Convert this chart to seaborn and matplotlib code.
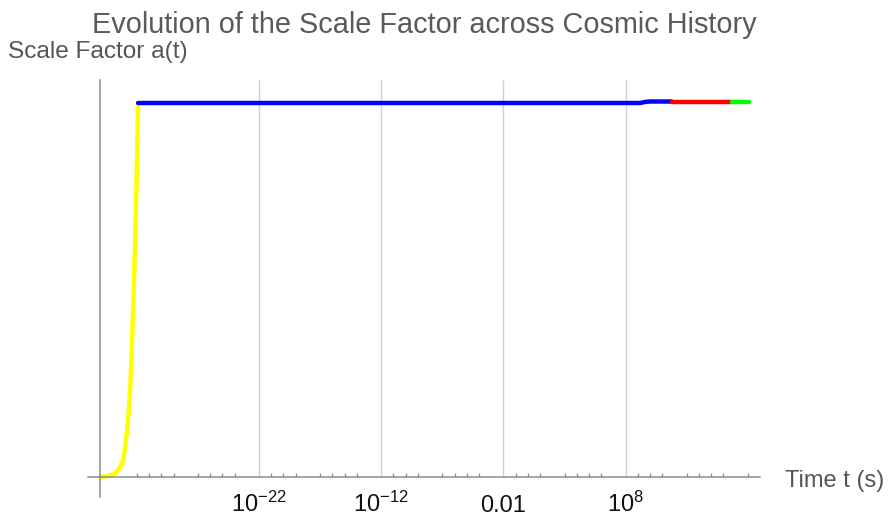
"""Scale factor a(t) across cosmic history, log-time axis, coloured by era."""

import matplotlib
matplotlib.use("Agg")
import matplotlib.pyplot as plt
import numpy as np
import pandas as pd
import seaborn as sns
from matplotlib.ticker import NullFormatter

# values (log10 of time in seconds, a normalised to 1)
inflation_logt = [-35.0, -34.5, -34.15, -34.0, -33.75, -33.5, -33.2, -33.0, -32.8, -32.65,
                  -32.53, -32.4, -32.26, -32.15, -32.04, -31.97, -31.9]
inflation_a = [0.0, 0.002, 0.005, 0.007, 0.011, 0.02, 0.037, 0.07, 0.126, 0.18,
               0.25, 0.36, 0.5, 0.62, 0.767, 0.88, 1.0]
radiation_logt = [-31.9, 9.2, 9.6, 10.0, 11.77]
radiation_a = [1.0, 1.0, 1.003, 1.004, 1.004]
matter_logt = [11.77, 16.74]
matter_a = [1.004, 1.004]
dark_logt = [16.74, 18.1]
dark_a = [1.004, 1.004]

phases = ["Inflation", "Radiation", "Matter", "Dark energy"]
colors = ["#FFFF00", "#0000FF", "#FF0000", "#00FF00"]

major_exp = [-22, -12, -2, 8]
major_labels = [r"$10^{-22}$", r"$10^{-12}$", "0.01", r"$10^{8}$"]
minor_exp = [-32, -31, -30, -29, -27, -26, -25, -24, -21, -20, -19, -17, -16, -15, -14,
             -11, -10, -9, -7, -6, -5, -4, -1, 0, 1, 3, 4, 5, 6, 9, 10, 11, 13, 14, 15, 16, 18]

frames = []
for name, lt, a in zip(phases,
                       [inflation_logt, radiation_logt, matter_logt, dark_logt],
                       [inflation_a, radiation_a, matter_a, dark_a]):
    frames.append(pd.DataFrame({"t": 10.0 ** np.array(lt), "a": a, "phase": name}))
df = pd.concat(frames, ignore_index=True)

sns.set_theme(style="white")
plt.rcParams["font.family"] = ["Liberation Sans", "DejaVu Sans"]
plt.rcParams["mathtext.fontset"] = "custom"
plt.rcParams["mathtext.rm"] = "Liberation Sans"
plt.rcParams["mathtext.it"] = "Liberation Sans"

fig = plt.figure(figsize=(8.88, 5.18), dpi=100)
ax = fig.add_axes([88 / 888, 1 - 497 / 518, 672 / 888, 417 / 518])

AXIS_GRAY = "#8c8c8c"
GRID_GRAY = "#d0d0d0"

ax.set_xscale("log")
ax.set_xlim(1e-36, 1e19)
ax.set_ylim(-0.0535, 1.0615)

# grid lines at the labelled ticks, from the axis upward
ax.vlines([10.0 ** e for e in major_exp], 0, 1.0615, color=GRID_GRAY, linewidth=1, zorder=0)

sns.lineplot(data=df, x="t", y="a", hue="phase", hue_order=phases, palette=colors,
             estimator=None, sort=False, linewidth=3.2, legend=False, ax=ax)

for side in ("top", "right"):
    ax.spines[side].set_visible(False)
ax.spines["left"].set_position(("data", 1e-35))
ax.spines["bottom"].set_position(("data", 0))
for side in ("left", "bottom"):
    ax.spines[side].set_color(AXIS_GRAY)
    ax.spines[side].set_linewidth(1.1)

ax.set_yticks([])
ax.set_xticks([10.0 ** e for e in major_exp], labels=major_labels)
ax.set_xticks([10.0 ** e for e in minor_exp], minor=True)
ax.xaxis.set_minor_formatter(NullFormatter())
ax.tick_params(axis="x", which="major", direction="out", length=6.5, width=1,
               color=GRID_GRAY, labelsize=17, labelcolor="#111111", pad=18.5)
ax.tick_params(axis="x", which="minor", direction="in", length=2.6, width=0.9,
               color=AXIS_GRAY, bottom=True)
plt.setp(ax.get_xticklabels(), va="baseline")

ax.set_xlabel("Time t (s)", fontsize=17, color="#555555", ha="left", va="center")
ax.xaxis.set_label_coords(1.037, 0.038)
ax.set_ylabel("Scale Factor a(t)", fontsize=17.6, color="#555555", rotation=0,
              ha="left", va="center")
ax.yaxis.set_label_coords(-0.119, 1.067)
ax.set_title("Evolution of the Scale Factor across Cosmic History", fontsize=20.8,
             color="#5a5a5a", pad=34)

fig.savefig("out.png", dpi=100)
